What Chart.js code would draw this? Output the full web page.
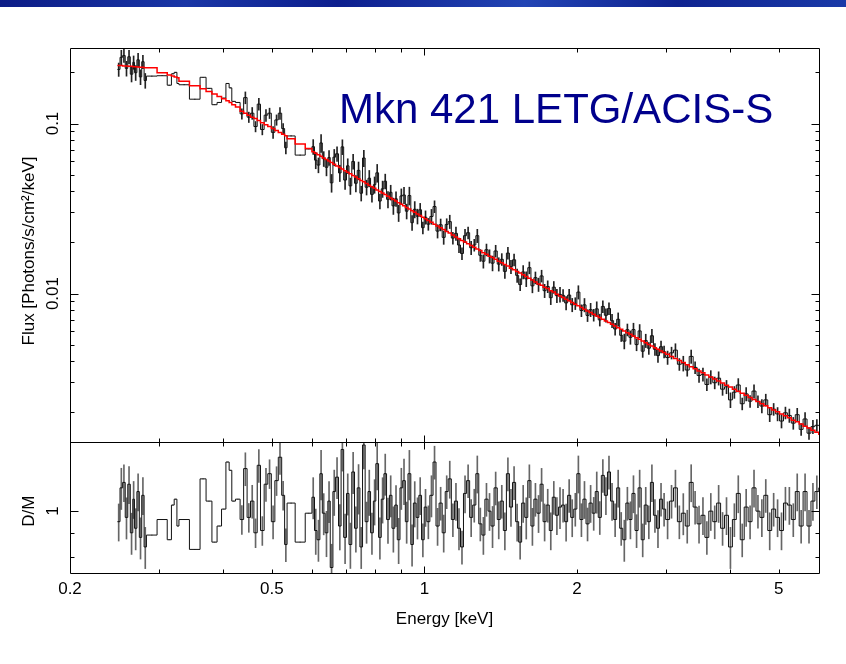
<!DOCTYPE html>
<html>
<head>
<meta charset="utf-8">
<title>Mkn 421 LETG/ACIS-S</title>
<script src="https://cdn.jsdelivr.net/npm/chart.js@4.4.0/dist/chart.umd.min.js"></script>
<style>
    html, body { margin: 0; padding: 0; background: #fff; }
    #wrap { position: relative; width: 846px; height: 664px; overflow: hidden; }
    #wrap canvas { position: absolute; left: 0; top: 0; }
    #banner {
        position: absolute; left: 0; top: 0; width: 846px; height: 7px;
        background: linear-gradient(100deg, #0c1c86 0%, #1a36a6 22%, #0d1f8e 40%, #2244b4 62%, #0f2390 80%, #1a3aa8 100%);
    }
</style>
</head>
<body>
<div id="wrap">
    <canvas id="spectrum" width="846" height="664"></canvas>
    <div id="banner"></div>
</div>
<script>
// Lower edge of each spectral bin [keV]; last bin closes at binEnd
const binLo = [
    // 0.25 - 0.6 keV, coarse bins
    0.248, 0.251, 0.254, 0.257, 0.260, 0.263, 0.266, 0.268, 0.271, 0.274, 0.277, 0.280,
    0.283, 0.297, 0.311, 0.317, 0.321, 0.325, 0.328, 0.344, 0.361, 0.371, 0.381, 0.390,
    0.398, 0.406, 0.412, 0.417, 0.424,
    0.433, 0.440, 0.447, 0.454, 0.461, 0.468, 0.475, 0.483, 0.491, 0.499, 0.507, 0.515, 0.523, 0.530,
    0.536, 0.556, 0.582,
    // 0.6 - 6 keV
    0.600, 0.607, 0.614, 0.622, 0.629, 0.637, 0.645, 0.652, 0.660, 0.668,
    0.677, 0.685, 0.693, 0.702, 0.710, 0.719, 0.728, 0.737, 0.746, 0.755,
    0.764, 0.774, 0.783, 0.793, 0.802, 0.812, 0.822, 0.832, 0.842, 0.853,
    0.863, 0.874, 0.884, 0.895, 0.906, 0.917, 0.928, 0.940, 0.951, 0.963,
    0.975, 0.987, 0.999, 1.011, 1.025, 1.040, 1.054, 1.069, 1.084, 1.099,
    1.114, 1.130, 1.146, 1.162, 1.178, 1.194, 1.211, 1.228, 1.245, 1.263,
    1.280, 1.298, 1.316, 1.335, 1.353, 1.372, 1.392, 1.411, 1.431, 1.451,
    1.471, 1.492, 1.513, 1.534, 1.555, 1.577, 1.599, 1.622, 1.644, 1.667,
    1.691, 1.714, 1.738, 1.763, 1.787, 1.812, 1.838, 1.864, 1.890, 1.916,
    1.943, 1.970, 1.998, 2.026, 2.054, 2.083, 2.112, 2.142, 2.172, 2.202,
    2.233, 2.264, 2.296, 2.328, 2.361, 2.394, 2.427, 2.461, 2.496, 2.531,
    2.566, 2.602, 2.639, 2.676, 2.713, 2.751, 2.790, 2.829, 2.868, 2.908,
    2.949, 2.990, 3.044, 3.099, 3.154, 3.211, 3.269, 3.328, 3.388, 3.449,
    3.511, 3.574, 3.638, 3.704, 3.770, 3.838, 3.907, 3.978, 4.049, 4.122,
    4.196, 4.272, 4.349, 4.427, 4.507, 4.588, 4.670, 4.754, 4.840, 4.927,
    5.016, 5.106, 5.198, 5.291, 5.387, 5.484, 5.582, 5.683, 5.785, 5.889, 5.995
];
const binEnd = 6.1;

// Unfolded data [Photons/s/cm2/keV]
const flux = [
    0.208, 0.245, 0.251, 0.211, 0.247, 0.195, 0.229, 0.199, 0.237, 0.188, 0.231, 0.179,
    0.190, 0.191, 0.168, 0.196, 0.200, 0.172, 0.169, 0.139, 0.187, 0.161, 0.129, 0.133,
    0.141, 0.172, 0.162, 0.135, 0.133,
    0.114, 0.142, 0.109, 0.115, 0.0960, 0.130, 0.0922, 0.112, 0.115, 0.0887, 0.105, 0.115, 0.0934, 0.0720,
    0.0845, 0.0652, 0.0709,
    0.0731, 0.0609, 0.0570, 0.0769, 0.0621, 0.0553, 0.0631, 0.0448, 0.0634, 0.0664,
    0.0512, 0.0729, 0.0465, 0.0564, 0.0430, 0.0598, 0.0445, 0.0530, 0.0389, 0.0627,
    0.0422, 0.0477, 0.0383, 0.0437, 0.0513, 0.0350, 0.0413, 0.0458, 0.0358, 0.0394,
    0.0328, 0.0361, 0.0298, 0.0375, 0.0380, 0.0305, 0.0377, 0.0261, 0.0313, 0.0285,
    0.0311, 0.0244, 0.0281, 0.0256, 0.0284, 0.0325, 0.0233, 0.0254, 0.0214, 0.0255,
    0.0265, 0.0212, 0.0226, 0.0193, 0.0172, 0.0219, 0.0228, 0.0186, 0.0193, 0.0219,
    0.0168, 0.0155, 0.0181, 0.0166, 0.0151, 0.0178, 0.0149, 0.0159, 0.0135, 0.0173,
    0.0144, 0.0158, 0.0128, 0.0113, 0.0134, 0.0122, 0.0142, 0.0111, 0.0124, 0.0113,
    0.0127, 0.0104, 0.0110, 0.00946, 0.0109, 0.00972, 0.00988, 0.00976, 0.00881, 0.00980,
    0.00859, 0.00875, 0.0102, 0.00795, 0.00858, 0.00744, 0.00804, 0.00748, 0.00813, 0.00700,
    0.00840, 0.00745, 0.00817, 0.00693, 0.00619, 0.00706, 0.00568, 0.00525, 0.00613, 0.00553,
    0.00614, 0.00501, 0.00603, 0.00458, 0.00529, 0.00477, 0.00565, 0.00470, 0.00432, 0.00487,
    0.00455, 0.00421, 0.00448, 0.00465, 0.00384, 0.00389, 0.00355, 0.00427, 0.00368, 0.00330,
    0.00335, 0.00292, 0.00323, 0.00299, 0.00318, 0.00274, 0.00283, 0.00237, 0.00263, 0.00290,
    0.00225, 0.00257, 0.00233, 0.00267, 0.00232, 0.00218, 0.00237, 0.00194, 0.00209, 0.00196,
    0.00178, 0.00199, 0.00192, 0.00173, 0.00194, 0.00159, 0.00183, 0.00151, 0.00165, 0.00168, 0.00167
];

// Folded model, same bins
const model = [
    0.219, 0.219, 0.218, 0.218, 0.217, 0.217, 0.216, 0.216, 0.215, 0.214, 0.214, 0.213,
    0.213, 0.199, 0.193, 0.190, 0.188, 0.186, 0.177, 0.167, 0.160, 0.154, 0.149, 0.144,
    0.140, 0.136, 0.133, 0.129, 0.125,
    0.118, 0.115, 0.112, 0.109, 0.107, 0.104, 0.101, 0.0985, 0.0959, 0.0934, 0.0909, 0.0885, 0.0865, 0.0847,
    0.0814, 0.0759, 0.0713,
    0.0683, 0.0669, 0.0655, 0.0641, 0.0627, 0.0614, 0.0601, 0.0589, 0.0576, 0.0563,
    0.0551, 0.0540, 0.0528, 0.0517, 0.0506, 0.0494, 0.0484, 0.0473, 0.0463, 0.0454,
    0.0444, 0.0434, 0.0425, 0.0416, 0.0407, 0.0398, 0.0390, 0.0382, 0.0373, 0.0365,
    0.0357, 0.0350, 0.0342, 0.0335, 0.0328, 0.0321, 0.0314, 0.0307, 0.0301, 0.0294,
    0.0288, 0.0281, 0.0275, 0.0269, 0.0263, 0.0256, 0.0250, 0.0244, 0.0238, 0.0232,
    0.0227, 0.0221, 0.0215, 0.0210, 0.0205, 0.0201, 0.0196, 0.0192, 0.0187, 0.0183,
    0.0179, 0.0174, 0.0170, 0.0166, 0.0163, 0.0159, 0.0155, 0.0152, 0.0148, 0.0145,
    0.0141, 0.0138, 0.0135, 0.0132, 0.0129, 0.0126, 0.0123, 0.0120, 0.0117, 0.0114,
    0.0112, 0.0109, 0.0107, 0.0104, 0.0102, 0.00992, 0.00969, 0.00948, 0.00927, 0.00907,
    0.00886, 0.00866, 0.00847, 0.00828, 0.00809, 0.00791, 0.00773, 0.00756, 0.00739, 0.00722,
    0.00706, 0.00690, 0.00675, 0.00660, 0.00645, 0.00630, 0.00617, 0.00603, 0.00589, 0.00576,
    0.00563, 0.00550, 0.00538, 0.00526, 0.00514, 0.00502, 0.00491, 0.00480, 0.00470, 0.00459,
    0.00450, 0.00439, 0.00427, 0.00415, 0.00404, 0.00393, 0.00382, 0.00371, 0.00361, 0.00351,
    0.00342, 0.00332, 0.00323, 0.00315, 0.00306, 0.00298, 0.00289, 0.00282, 0.00274, 0.00266,
    0.00259, 0.00252, 0.00245, 0.00238, 0.00232, 0.00225, 0.00219, 0.00213, 0.00207, 0.00202,
    0.00196, 0.00191, 0.00186, 0.00180, 0.00176, 0.00171, 0.00166, 0.00162, 0.00157, 0.00153, 0.00149
];

// Data / model ratio
const ratio = [
    0.95, 1.12, 1.15, 0.97, 1.14, 0.90, 1.06, 0.92, 1.10, 0.88, 1.08, 0.84,
    0.89, 0.96, 0.87, 1.03, 1.06, 0.93, 0.96, 0.83, 1.17, 1.05, 0.86, 0.93,
    1.01, 1.27, 1.22, 1.05, 1.06,
    0.96, 1.23, 0.97, 1.05, 0.90, 1.25, 0.91, 1.14, 1.20, 0.95, 1.16, 1.30, 1.08, 0.85,
    1.04, 0.86, 0.99,
    1.07, 0.91, 0.87, 1.20, 0.99, 0.90, 1.05, 0.76, 1.10, 1.18,
    0.93, 1.35, 0.88, 1.09, 0.85, 1.21, 0.92, 1.12, 0.84, 1.38,
    0.95, 1.10, 0.90, 1.05, 1.26, 0.88, 1.06, 1.20, 0.96, 1.08,
    0.92, 1.03, 0.87, 1.12, 1.16, 0.95, 1.20, 0.85, 1.04, 0.97,
    1.08, 0.87, 1.02, 0.95, 1.08, 1.27, 0.93, 1.04, 0.90, 1.10,
    1.17, 0.96, 1.05, 0.92, 0.84, 1.09, 1.16, 0.97, 1.03, 1.20,
    0.94, 0.89, 1.06, 1.00, 0.93, 1.12, 0.96, 1.05, 0.91, 1.20,
    1.02, 1.15, 0.95, 0.86, 1.04, 0.97, 1.16, 0.93, 1.06, 0.99,
    1.14, 0.95, 1.03, 0.91, 1.07, 0.98, 1.02, 1.03, 0.95, 1.08,
    0.97, 1.01, 1.20, 0.96, 1.06, 0.94, 1.04, 0.99, 1.10, 0.97,
    1.19, 1.08, 1.21, 1.05, 0.96, 1.12, 0.92, 0.87, 1.04, 0.96,
    1.09, 0.91, 1.12, 0.87, 1.03, 0.95, 1.15, 0.98, 0.92, 1.06,
    1.01, 0.96, 1.05, 1.12, 0.95, 0.99, 0.93, 1.15, 1.02, 0.94,
    0.98, 0.88, 1.00, 0.95, 1.04, 0.92, 0.98, 0.84, 0.96, 1.09,
    0.87, 1.02, 0.95, 1.12, 1.00, 0.97, 1.08, 0.91, 1.01, 0.97,
    0.91, 1.04, 1.03, 0.96, 1.10, 0.93, 1.10, 0.93, 1.05, 1.10, 1.12
];

// Relative 1-sigma error of each bin (error bar half length / value); wide bins show none
const relErr = [
    0.09, 0.10, 0.09, 0.10, 0.09, 0.10, 0.09, 0.10, 0.09, 0.10, 0.09, 0.10,
    0, 0, 0, 0, 0, 0, 0, 0, 0, 0, 0, 0,
    0, 0, 0, 0, 0,
    0.07, 0.08, 0.07, 0.08, 0.07, 0.08, 0.07, 0.08, 0.07, 0.08, 0.07, 0.08, 0.07, 0.08,
    0, 0, 0,
    0.10, 0.11, 0.10, 0.12, 0.10, 0.11, 0.10, 0.12, 0.11, 0.10,
    0.11, 0.10, 0.12, 0.10, 0.11, 0.10, 0.11, 0.12, 0.10, 0.11,
    0.10, 0.11, 0.10, 0.11, 0.12, 0.10, 0.11, 0.10, 0.11, 0.10,
    0.11, 0.10, 0.11, 0.10, 0.11, 0.10, 0.12, 0.10, 0.11, 0.10,
    0.09, 0.08, 0.09, 0.08, 0.10, 0.08, 0.09, 0.08, 0.09, 0.08,
    0.09, 0.08, 0.09, 0.10, 0.08, 0.09, 0.08, 0.09, 0.08, 0.09,
    0.08, 0.09, 0.08, 0.09, 0.10, 0.08, 0.09, 0.08, 0.09, 0.08,
    0.09, 0.08, 0.09, 0.08, 0.09, 0.10, 0.08, 0.09, 0.08, 0.09,
    0.08, 0.09, 0.08, 0.09, 0.08, 0.09, 0.10, 0.08, 0.09, 0.08,
    0.09, 0.08, 0.09, 0.08, 0.09, 0.08, 0.09, 0.08, 0.10, 0.08,
    0.08, 0.09, 0.08, 0.09, 0.08, 0.09, 0.08, 0.10, 0.08, 0.09,
    0.09, 0.08, 0.09, 0.08, 0.09, 0.08, 0.09, 0.08, 0.09, 0.08,
    0.08, 0.09, 0.08, 0.09, 0.08, 0.10, 0.08, 0.09, 0.08, 0.09,
    0.09, 0.08, 0.09, 0.08, 0.09, 0.08, 0.09, 0.10, 0.08, 0.09,
    0.08, 0.09, 0.08, 0.09, 0.08, 0.09, 0.08, 0.09, 0.08, 0.09,
    0.09, 0.08, 0.09, 0.08, 0.09, 0.08, 0.09, 0.08, 0.09, 0.08, 0.09
];

// Axis ranges
const energyRange = [0.2, 6.0];
const fluxRange = [0.00134, 0.278];
const ratioRange = [0.74, 1.4];

// Tick marks and labels
const energyTicksMajor = [1];
const energyTicksMinor = [0.3, 0.4, 0.5, 0.6, 0.7, 0.8, 0.9, 2, 3, 4, 5];
const energyTickLabels = ['0.2', '0.5', '1', '2', '5'];
const fluxTicksMajor = [0.01, 0.1];
const fluxTicksMinor = [0.002, 0.003, 0.004, 0.005, 0.006, 0.007, 0.008, 0.009,
    0.02, 0.03, 0.04, 0.05, 0.06, 0.07, 0.08, 0.09, 0.2];
const fluxTickLabels = ['0.01', '0.1'];
const ratioTicksMajor = [1];
const ratioTicksMinor = [0.8, 0.9];
const ratioTickLabels = ['1'];

const titleText = 'Mkn 421 LETG/ACIS-S';
const xTitle = 'Energy [keV]';
const fluxTitle = 'Flux [Photons/s/cm\u00b2/keV]';
const ratioTitle = 'D/M';

const FONT = '"Liberation Sans", Arial, Helvetica, sans-serif';

if ([flux, model, ratio, relErr].some(a => a.length !== binLo.length)) {
    console.error('bin arrays differ in length', binLo.length, flux.length, model.length, ratio.length, relErr.length);
}

// histogram points: value held from each lower edge to the next
function steps(values) {
    const pts = binLo.map((e, i) => ({ x: e, y: values[i] }));
    pts.push({ x: binEnd, y: values[values.length - 1] });
    return pts;
}

// vertical error bars at the (log) centre of each bin
function errorBars(values) {
    return binLo.map((e, i) => {
        const hi = i + 1 < binLo.length ? binLo[i + 1] : binEnd;
        const v = values[i];
        return { x: Math.sqrt(e * hi), y: [v * (1 - relErr[i]), v * (1 + relErr[i])] };
    });
}

const xspecFrame = {
    id: 'xspecFrame',
    afterDraw(chart) {
        const c = chart.ctx;
        const sx = chart.scales.x, sf = chart.scales.yFlux, sr = chart.scales.yRatio;
        const px = v => Math.round(v) + 0.5;
        const L = px(sx.left), R = px(sx.right);
        const T = px(sf.top), M = px(sf.bottom), B = px(sr.bottom);

        c.save();
        c.strokeStyle = '#000';
        c.lineWidth = 1;
        c.beginPath();
        c.moveTo(L, T); c.lineTo(R, T); c.lineTo(R, B); c.lineTo(L, B); c.closePath();
        c.moveTo(L, M); c.lineTo(R, M);

        // energy ticks on every horizontal edge, pointing inward
        const xTick = (v, len) => {
            const X = px(sx.getPixelForValue(v));
            c.moveTo(X, T); c.lineTo(X, T + len);
            c.moveTo(X, M - len); c.lineTo(X, M + len);
            c.moveTo(X, B); c.lineTo(X, B - len);
        };
        energyTicksMinor.forEach(v => xTick(v, 4));
        energyTicksMajor.forEach(v => xTick(v, 7));

        const yTick = (scale, v, len) => {
            const Y = px(scale.getPixelForValue(v));
            c.moveTo(L, Y); c.lineTo(L + len, Y);
            c.moveTo(R, Y); c.lineTo(R - len, Y);
        };
        fluxTicksMinor.forEach(v => yTick(sf, v, 4));
        fluxTicksMajor.forEach(v => yTick(sf, v, 8));
        ratioTicksMinor.forEach(v => yTick(sr, v, 4));
        ratioTicksMajor.forEach(v => yTick(sr, v, 8));
        c.stroke();

        // tick labels
        c.fillStyle = '#000';
        c.font = '17px ' + FONT;
        c.textAlign = 'center';
        c.textBaseline = 'alphabetic';
        energyTickLabels.forEach(t => {
            c.fillText(t, sx.getPixelForValue(parseFloat(t)), B + 20);
        });
        const rotated = (text, x, y) => {
            c.save();
            c.translate(x, y);
            c.rotate(-Math.PI / 2);
            c.fillText(text, 0, 0);
            c.restore();
        };
        fluxTickLabels.forEach(t => rotated(t, 57.5, sf.getPixelForValue(parseFloat(t))));
        ratioTickLabels.forEach(t => rotated(t, 57.5, sr.getPixelForValue(parseFloat(t))));

        // axis titles
        c.fillText(xTitle, (sx.left + sx.right) / 2, 624);
        rotated(fluxTitle, 34, (sf.top + sf.bottom) / 2 + 6);
        rotated(ratioTitle, 34, sr.getPixelForValue(1));

        // plot title
        c.fillStyle = '#00008c';
        c.font = '42px ' + FONT;
        c.textAlign = 'left';
        c.fillText(titleText, 339, 123);
        c.restore();
    }
};

const noSize = axis => scale => {
    if (axis === 'x') scale.height = 0; else scale.width = 0;
};

const hiddenAxis = {
    grid: { display: false },
    border: { display: false },
    ticks: { display: false }
};

const stepStyle = {
    stepped: true,
    pointRadius: 0,
    fill: false
};

const barStyle = {
    type: 'bar',
    grouped: false,
    barThickness: 1,
    borderWidth: 0
};

new Chart(document.getElementById('spectrum').getContext('2d'), {
    type: 'line',
    data: {
        datasets: [
            Object.assign({ label: 'model', data: steps(model), yAxisID: 'yFlux',
                borderColor: '#ff0000', borderWidth: 1.5, order: 0 }, stepStyle),
            Object.assign({ label: 'data', data: steps(flux), yAxisID: 'yFlux',
                borderColor: '#111111', borderWidth: 1, order: 1 }, stepStyle),
            Object.assign({ label: 'data errors', data: errorBars(flux), yAxisID: 'yFlux',
                backgroundColor: '#222222', order: 2 }, barStyle),
            Object.assign({ label: 'D/M', data: steps(ratio), yAxisID: 'yRatio',
                borderColor: '#111111', borderWidth: 1, order: 1 }, stepStyle),
            Object.assign({ label: 'D/M errors', data: errorBars(ratio), yAxisID: 'yRatio',
                backgroundColor: '#666666', order: 2 }, barStyle)
        ]
    },
    options: {
        responsive: false,
        animation: false,
        events: [],
        layout: { padding: { left: 70, right: 27, top: 48, bottom: 91 } },
        plugins: {
            legend: { display: false },
            tooltip: { enabled: false }
        },
        scales: {
            x: Object.assign({
                type: 'logarithmic',
                offset: false,
                min: energyRange[0],
                max: energyRange[1],
                afterFit: noSize('x')
            }, hiddenAxis),
            // the layout stacks these bottom-up, so the ratio panel comes first
            yRatio: Object.assign({
                type: 'logarithmic',
                position: 'left',
                stack: 'panels',
                stackWeight: 131,
                min: ratioRange[0],
                max: ratioRange[1],
                afterFit: noSize('y')
            }, hiddenAxis),
            yFlux: Object.assign({
                type: 'logarithmic',
                position: 'left',
                stack: 'panels',
                stackWeight: 394,
                min: fluxRange[0],
                max: fluxRange[1],
                afterFit: noSize('y')
            }, hiddenAxis)
        }
    },
    plugins: [xspecFrame]
});
</script>
</body>
</html>
